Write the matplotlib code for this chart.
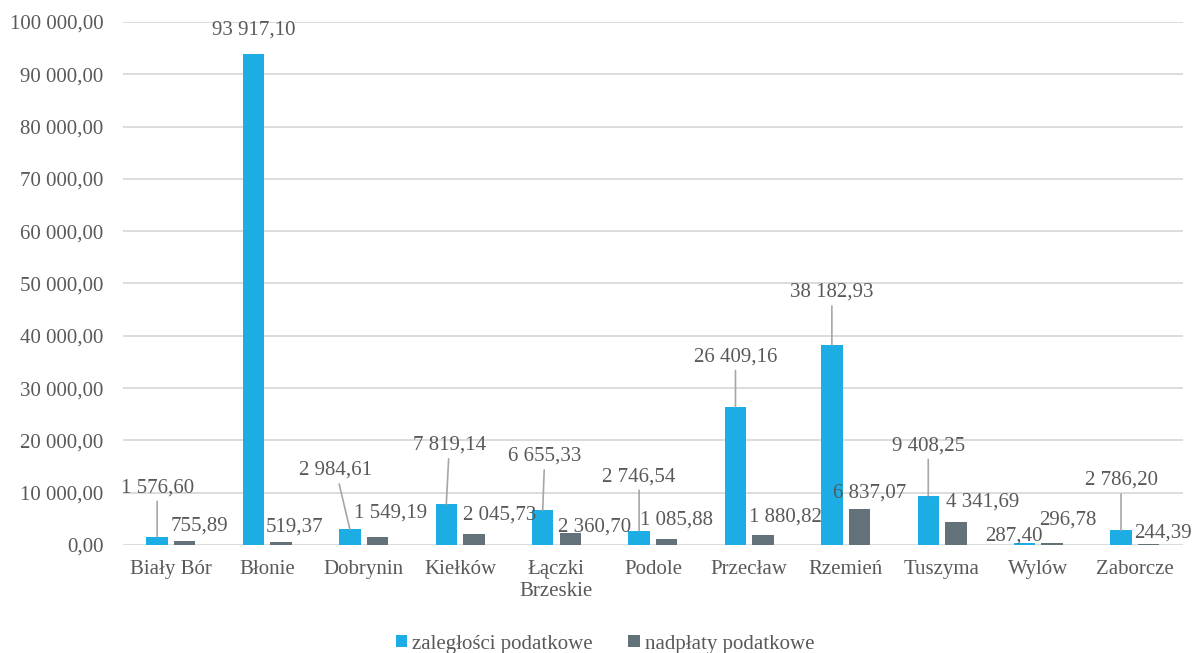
import numpy as np
import matplotlib.pyplot as plt

plt.rcParams['font.family'] = 'serif'
plt.rcParams['font.serif'] = ['Liberation Serif', 'Times New Roman', 'DejaVu Serif']

categories = ['Biały Bór', 'Błonie', 'Dobrynin', 'Kiełków', 'Łączki\nBrzeskie', 'Podole',
              'Przecław', 'Rzemień', 'Tuszyma', 'Wylów', 'Zaborcze']
zaleglosci = [1576.60, 93917.10, 2984.61, 7819.14, 6655.33, 2746.54,
              26409.16, 38182.93, 9408.25, 287.40, 2786.20]
nadplaty = [755.89, 519.37, 1549.19, 2045.73, 2360.70, 1085.88,
            1880.82, 6837.07, 4341.69, 296.78, 244.39]

# label offsets in pixels from the top of each bar (dx, dy), and leader line flags
blue_off = [(0, 49), (0, 24), (-14, 59), (3, 59), (2, 54), (0, 54),
            (0, 50), (0, 53), (0, 50), (-11, 7), (0, 50)]
blue_leader = [True, False, True, True, True, True, True, True, True, False, True]
grey_off = [(15, 15), (13, 15), (13, 24), (26, 19), (24, 6), (10, 19),
            (22, 18), (10, 16), (27, 20), (16, 23), (14, 11)]

BLUE = '#1CADE4'
GREY = '#637179'
TEXT = '#595959'


def fmt(v):
    return f'{v:,.2f}'.replace(',', ' ').replace('.', ',')


def main():
    fig = plt.figure(figsize=(11.94, 6.53), dpi=100)
    ax = fig.add_axes([0.1028, 0.1654, 0.8880, 0.8009])

    x = np.arange(len(categories))
    w = 0.223
    d = 0.143
    ax.bar(x - d, zaleglosci, w, color=BLUE, label='zaległości podatkowe', zorder=3)
    ax.bar(x + d, nadplaty, w, color=GREY, label='nadpłaty podatkowe', zorder=3)

    # data labels
    for i in range(len(categories)):
        props = None
        if blue_leader[i]:
            props = dict(arrowstyle='-', color='#a6a6a6', lw=1.2, shrinkA=1, shrinkB=0)
        ax.annotate(fmt(zaleglosci[i]), xy=(x[i] - d, zaleglosci[i]), xytext=blue_off[i],
                    textcoords='offset pixels', ha='center', va='center',
                    fontsize=15, color=TEXT, arrowprops=props, zorder=4)
        ax.annotate(fmt(nadplaty[i]), xy=(x[i] + d, nadplaty[i]), xytext=grey_off[i],
                    textcoords='offset pixels', ha='center', va='center',
                    fontsize=15, color=TEXT, zorder=4)

    ax.set_xlim(-0.5, len(categories) - 0.5)
    ax.set_ylim(0, 100000)
    ax.set_yticks(np.arange(0, 100001, 10000))
    ax.set_yticklabels([fmt(v) for v in np.arange(0, 100001, 10000)])
    ax.set_xticks(x)
    ax.set_xticklabels(categories)
    ax.tick_params(axis='both', length=0, labelsize=15, labelcolor=TEXT)
    ax.tick_params(axis='y', pad=14)
    ax.tick_params(axis='x', pad=11)
    ax.grid(axis='y', color='#d9d9d9', lw=1.3, zorder=0)
    for s in ax.spines.values():
        s.set_visible(False)

    fig.legend(loc='center', bbox_to_anchor=(605 / 1194, 1 - 644 / 653), ncol=2,
               frameon=False, fontsize=15, handlelength=0.55, handleheight=0.55,
               handletextpad=0.25, columnspacing=1.7, labelcolor=TEXT)

    fig.savefig('out.png', dpi=100)


if __name__ == '__main__':
    main()
